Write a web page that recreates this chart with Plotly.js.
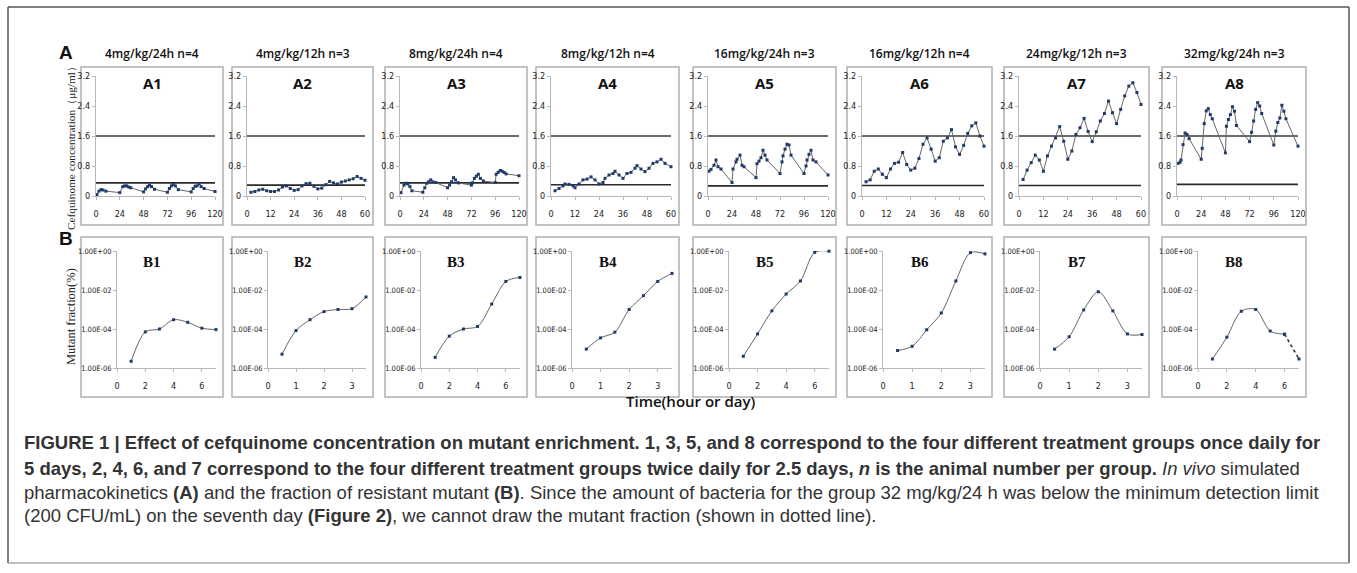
<!DOCTYPE html>
<html><head><meta charset="utf-8">
<script src="https://cdn.plot.ly/plotly-3.0.1.min.js"></script>
<style>html,body{margin:0;padding:0;background:#fff}#chart{width:1357px;height:573px}</style>
</head><body><div id="chart"></div>
<script>
// ---------------- DATA ----------------
const groupTitles = ['4mg/kg/24h n=4','4mg/kg/12h n=3','8mg/kg/24h n=4','8mg/kg/12h n=4','16mg/kg/24h n=3','16mg/kg/12h n=4','24mg/kg/12h n=3','32mg/kg/24h n=3'];
const panelNamesA = ['A1','A2','A3','A4','A5','A6','A7','A8'];
const panelNamesB = ['B1','B2','B3','B4','B5','B6','B7','B8'];
const hourSpanA = [120,60,120,60,120,60,60,120];
const hourTicks120 = [0,24,48,72,96,120];
const hourTicks60 = [0,12,24,36,48,60];
const concTicks = [0,0.8,1.6,2.4,3.2];
const concTickText = ['0','0.8','1.6','2.4','3.2'];
const upperLine = [1.6,1.6,1.6,1.6,1.6,1.6,1.6,1.6];
const lowerLine = [0.35,0.29,0.35,0.30,0.27,0.28,0.28,0.31];

const timeA1 = [1,3,5,7,10,24,27,29,31,33,35,48,50,52,54,56,59,72,74,76,78,80,83,96,98,100,102,104,106,109,120];
const concA1 = [0.04,0.13,0.17,0.16,0.13,0.09,0.25,0.27,0.27,0.24,0.22,0.11,0.19,0.25,0.29,0.25,0.18,0.10,0.20,0.27,0.31,0.27,0.17,0.11,0.20,0.26,0.27,0.33,0.25,0.20,0.12];
const timeA2 = [2,4,6,8,10,12,14,16,18,20,22,24,26,28,30,32,34,36,38,40,42,44,46,48,50,52,54,56,58,60];
const concA2 = [0.10,0.12,0.16,0.18,0.14,0.12,0.12,0.16,0.24,0.27,0.20,0.15,0.17,0.27,0.33,0.34,0.26,0.19,0.21,0.30,0.39,0.35,0.32,0.37,0.40,0.43,0.46,0.52,0.47,0.42];
const timeA3 = [1,4,6,8,10,12,23,25,27,29,31,33,36,48,50,52,54,56,59,72,73,75,77,79,81,84,96,97,99,101,103,105,107,120];
const concA3 = [0.09,0.29,0.34,0.32,0.25,0.14,0.10,0.22,0.34,0.38,0.43,0.38,0.36,0.22,0.29,0.38,0.49,0.43,0.35,0.29,0.35,0.47,0.53,0.58,0.47,0.40,0.36,0.58,0.63,0.68,0.66,0.63,0.59,0.54];
const timeA4 = [2,4,6,7,9,11,12,14,16,18,20,22,24,26,27,29,31,32,34,36,38,40,42,43,45,47,49,51,53,55,57,60];
const concA4 = [0.14,0.20,0.27,0.32,0.31,0.27,0.22,0.32,0.43,0.45,0.51,0.43,0.32,0.36,0.47,0.56,0.60,0.66,0.56,0.47,0.60,0.63,0.74,0.81,0.72,0.65,0.74,0.87,0.91,0.98,0.87,0.78];
const timeA5 = [1,3,6,8,10,13,24,25,28,29,32,34,36,48,49,51,53,55,57,59,72,74,75,77,79,81,83,96,98,99,101,103,105,108,120];
const concA5 = [0.66,0.71,0.82,0.96,0.78,0.72,0.36,0.72,0.91,0.98,1.09,0.82,0.78,0.49,0.86,0.93,1.02,1.22,1.09,0.96,0.60,0.91,1.07,1.25,1.38,1.36,1.09,0.60,0.80,0.96,1.11,1.22,0.96,0.91,0.56];
const timeA6 = [2,4,6,8,10,12,14,16,18,20,22,24,26,28,30,32,34,36,38,40,42,44,46,48,50,52,54,56,58,60];
const concA6 = [0.38,0.43,0.66,0.72,0.58,0.49,0.72,0.87,0.90,1.16,0.84,0.69,0.74,1.00,1.38,1.55,1.25,0.93,1.02,1.46,1.55,1.77,1.31,1.11,1.35,1.67,1.87,1.95,1.60,1.33];
const timeA7 = [2,4,6,8,10,12,14,16,18,20,22,24,26,28,30,32,34,36,38,40,42,44,46,48,50,52,54,56,58,60];
const concA7 = [0.44,0.69,0.89,1.09,0.96,0.66,1.07,1.33,1.55,1.85,1.46,0.98,1.20,1.64,1.82,2.07,1.72,1.45,1.71,2.00,2.20,2.53,2.22,1.93,2.31,2.67,2.93,3.02,2.76,2.44];
const timeA8 = [1,3,4,6,8,10,12,24,25,27,29,31,33,35,48,49,51,53,55,57,59,72,74,76,78,80,82,84,96,98,100,102,104,106,108,120];
const concA8 = [0.87,0.90,0.96,1.37,1.68,1.64,1.53,0.98,1.27,1.93,2.27,2.33,2.17,2.06,1.15,1.86,2.04,2.17,2.38,2.26,1.88,1.45,1.70,2.00,2.31,2.49,2.40,2.20,1.36,1.73,1.96,2.08,2.42,2.26,2.06,1.33];

const daySpanB = [7,3.5,7,3.5,7,3.5,3.5,7];
const dayTicks7 = [0,2,4,6];
const dayTicks35 = [0,1,2,3];
const fracTicks = [1,0.01,0.0001,0.000001];
const fracTickText = ['1.00E+00','1.00E-02','1.00E-04','1.00E-06'];
const dayB1 = [1,2,3,4,5,6,7];
const fracB1 = [2.2e-6,7.1e-5,1.0e-4,3.0e-4,2.2e-4,1.1e-4,9.3e-5];
const dayB2 = [0.5,1,1.5,2,2.5,3,3.5];
const fracB2 = [5.1e-6,8.3e-5,3.0e-4,7.8e-4,1.0e-3,1.1e-3,4.4e-3];
const dayB3 = [1,2,3,4,5,6,7];
const fracB3 = [3.5e-6,4.3e-5,1.0e-4,1.35e-4,1.9e-3,2.75e-2,4.4e-2];
const dayB4 = [0.5,1,1.5,2,2.5,3,3.5];
const fracB4 = [9.3e-6,3.5e-5,6.9e-5,1.0e-3,5.1e-3,2.75e-2,7.1e-2];
const dayB5 = [1,2,3,4,5,6,7];
const fracB5 = [4.0e-6,5.6e-5,8.5e-4,6.2e-3,2.9e-2,0.85,0.98];
const dayB6 = [0.5,1,1.5,2,2.5,3,3.5];
const fracB6 = [7.9e-6,1.3e-5,9.1e-5,6.6e-4,2.9e-2,0.82,0.71];
const dayB7 = [0.5,1,1.5,2,2.5,3,3.5];
const fracB7 = [9.3e-6,4.0e-5,9.5e-4,8.1e-3,8.5e-4,5.6e-5,5.2e-5];
const dayB8 = [1,2,3,4,5,6];
const fracB8 = [2.9e-6,3.8e-5,8.1e-4,1.0e-3,7.9e-5,5.4e-5];
const dayB8dotted = [6,7];
const fracB8dotted = [5.4e-5,2.9e-6];

const timesA = [timeA1,timeA2,timeA3,timeA4,timeA5,timeA6,timeA7,timeA8];
const concsA = [concA1,concA2,concA3,concA4,concA5,concA6,concA7,concA8];
const daysB = [dayB1,dayB2,dayB3,dayB4,dayB5,dayB6,dayB7,dayB8];
const fracsB = [fracB1,fracB2,fracB3,fracB4,fracB5,fracB6,fracB7,fracB8];

// ---------------- LAYOUT ----------------
const W = 1357, H = 573;
const fx = p => p / W;
const fy = p => 1 - p / H;
const boxL = [81,232,385,536,693,847,1004,1162];
const boxR = [223,373,527,679,836,992,1149,1306];
const boxA = [67,225], boxB = [237,397];
const plotA = [76,196], plotB = [251,368];

const tickFont = {family:'DejaVu Sans Condensed, Liberation Sans Narrow, Liberation Sans, sans-serif', size:9, color:'#222'};
const markerColor = '#1f3a68';
const lineColor = '#666';

const traces = [];
const layout = {
  width: W, height: H, margin:{l:0,r:0,t:0,b:0},
  paper_bgcolor:'#fff', plot_bgcolor:'rgba(0,0,0,0)', showlegend:false,
  shapes:[], annotations:[]
};

function axisCommon(){
  return {showgrid:false, zeroline:false, showline:true, linecolor:'#b8b8b8', linewidth:1,
    ticks:'outside', ticklen:3, tickcolor:'#b8b8b8', tickfont:tickFont, fixedrange:true};
}

for (let i = 0; i < 8; i++) {
  const na = i + 1, nb = i + 9;
  const xa = 'x' + (na === 1 ? '' : na), ya = 'y' + (na === 1 ? '' : na);
  const xb = 'x' + nb, yb = 'y' + nb;
  const span = hourSpanA[i];
  layout['xaxis' + (na === 1 ? '' : na)] = Object.assign(axisCommon(), {
    domain:[fx(boxL[i] + 15), fx(boxR[i] - 8)], range:[0, span], anchor: ya,
    tickvals: span === 120 ? hourTicks120 : hourTicks60, ticklabelstandoff: 6
  });
  layout['yaxis' + (na === 1 ? '' : na)] = Object.assign(axisCommon(), {
    domain:[fy(plotA[1]), fy(plotA[0])], range:[0, 3.2], anchor: xa,
    tickvals: concTicks, ticktext: concTickText
  });
  layout['xaxis' + nb] = Object.assign(axisCommon(), {
    domain:[fx(boxL[i] + 36), fx(boxR[i] - 7)], range:[0, daySpanB[i]], anchor: yb,
    tickvals: daySpanB[i] === 7 ? dayTicks7 : dayTicks35, ticklabelstandoff: 6
  });
  layout['yaxis' + nb] = Object.assign(axisCommon(), {
    domain:[fy(plotB[1]), fy(plotB[0])], type:'log', range:[-6, 0], anchor: xb,
    tickvals: fracTicks, ticktext: fracTickText,
    tickfont: Object.assign({}, tickFont, {size:7.5})
  });

  traces.push({x:[0, span], y:[upperLine[i], upperLine[i]], xaxis:xa, yaxis:ya, mode:'lines',
    line:{color:'#3a3a3a', width:1.7}, hoverinfo:'skip', cliponaxis:false});
  traces.push({x:[0, span], y:[lowerLine[i], lowerLine[i]], xaxis:xa, yaxis:ya, mode:'lines',
    line:{color:'#2a2a2a', width:1.7}, hoverinfo:'skip', cliponaxis:false});
  traces.push({x:timesA[i], y:concsA[i], xaxis:xa, yaxis:ya, mode:'lines+markers',
    line:{color:lineColor, width:1}, marker:{color:markerColor, size:3, symbol:'square'}, cliponaxis:false});
  traces.push({x:daysB[i], y:fracsB[i], xaxis:xb, yaxis:yb, mode:'lines+markers',
    line:{color:lineColor, width:1, shape:'spline', smoothing:0.9}, marker:{color:markerColor, size:3, symbol:'square'}, cliponaxis:false});
  if (i === 7) {
    traces.push({x:dayB8dotted, y:fracB8dotted, xaxis:xb, yaxis:yb, mode:'lines+markers',
      line:{color:'#333', width:1.6, dash:'dot'}, marker:{color:markerColor, size:3, symbol:'square'}, cliponaxis:false});
  }

  [boxA, boxB].forEach(bx => layout.shapes.push({type:'rect', xref:'paper', yref:'paper',
    x0:fx(boxL[i]), x1:fx(boxR[i]), y0:fy(bx[1]), y1:fy(bx[0]), line:{color:'#b0b0b0', width:1.5}, layer:'below'}));

  const cx = fx((boxL[i] + boxR[i]) / 2);
  layout.annotations.push({text:groupTitles[i], xref:'paper', yref:'paper', x:cx, y:fy(53), showarrow:false,
    xanchor:'center', yanchor:'middle', font:{family:'Open Sans, DejaVu Sans, sans-serif', size:12, weight:600, color:'#111'}});
  layout.annotations.push({text:panelNamesA[i], xref:'paper', yref:'paper', x:cx, y:fy(83), showarrow:false,
    xanchor:'center', yanchor:'middle', font:{family:'Open Sans, DejaVu Sans, sans-serif', size:15, weight:700, color:'#111'}});
  layout.annotations.push({text:panelNamesB[i], xref:'paper', yref:'paper', x:cx, y:fy(262), showarrow:false,
    xanchor:'center', yanchor:'middle', font:{family:'Liberation Serif, Times New Roman, serif', size:15, weight:700, color:'#111'}});
}

layout.shapes.push({type:'line', xref:'paper', yref:'paper', x0:fx(8), x1:fx(1349), y0:fy(7), y1:fy(7), line:{color:'#555', width:1.5}});
layout.shapes.push({type:'line', xref:'paper', yref:'paper', x0:fx(8), x1:fx(8), y0:fy(7), y1:fy(563), line:{color:'#555', width:1.5}});
layout.shapes.push({type:'line', xref:'paper', yref:'paper', x0:fx(1349), x1:fx(1349), y0:fy(7), y1:fy(563), line:{color:'#555', width:1.5}});
layout.shapes.push({type:'line', xref:'paper', yref:'paper', x0:fx(8), x1:fx(1349), y0:fy(563), y1:fy(563), line:{color:'#aaa', width:1.5}});

layout.annotations.push({text:'<b>A</b>', xref:'paper', yref:'paper', x:fx(57), y:fy(40), showarrow:false,
  font:{family:'Liberation Sans, Arial, sans-serif', size:19, color:'#111'}});
layout.annotations.push({text:'<b>B</b>', xref:'paper', yref:'paper', x:fx(57), y:fy(238), showarrow:false,
  font:{family:'Liberation Sans, Arial, sans-serif', size:19, color:'#111'}});
layout.annotations.push({text:'Cefquinome concentration（μg/ml）', xref:'paper', yref:'paper',
  x:fx(71), y:fy(146), xanchor:'center', yanchor:'middle', showarrow:false, textangle:-90,
  font:{family:'Liberation Serif, Times New Roman, serif', size:11.3, color:'#222'}});
layout.annotations.push({text:'Mutant fraction(%)', xref:'paper', yref:'paper',
  x:fx(71), y:fy(317), xanchor:'center', yanchor:'middle', showarrow:false, textangle:-90,
  font:{family:'Liberation Serif, Times New Roman, serif', size:12.5, color:'#222'}});
layout.annotations.push({text:'Time(hour or day)', xref:'paper', yref:'paper', x:fx(691), y:fy(413), showarrow:false,
  font:{family:'Open Sans, DejaVu Sans, sans-serif', size:15, weight:600, color:'#111'}});

const capFont = {family:'Liberation Sans, Arial, sans-serif', size:18.5, color:'#333'};
const captionLines = [
  '<b>FIGURE 1 | Effect of cefquinome concentration on mutant enrichment. 1, 3, 5, and 8 correspond to the four different treatment groups once daily for</b>',
  '<b>5 days, 2, 4, 6, and 7 correspond to the four different treatment groups twice daily for 2.5 days, <i>n</i> is the animal number per group.</b> <i>In vivo</i> simulated',
  'pharmacokinetics <b>(A)</b> and the fraction of resistant mutant <b>(B)</b>. Since the amount of bacteria for the group 32 mg/kg/24 h was below the minimum detection limit',
  '(200 CFU/mL) on the seventh day <b>(Figure 2)</b>, we cannot draw the mutant fraction (shown in dotted line).'
];
const captionY = [443, 468, 492, 515];
captionLines.forEach((t, k) => layout.annotations.push({text:t, xref:'paper', yref:'paper', x:fx(22), y:fy(captionY[k]),
  xanchor:'left', yanchor:'middle', align:'left', showarrow:false, font:capFont}));

Plotly.newPlot('chart', traces, layout, {staticPlot:true, displayModeBar:false});
</script></body></html>
